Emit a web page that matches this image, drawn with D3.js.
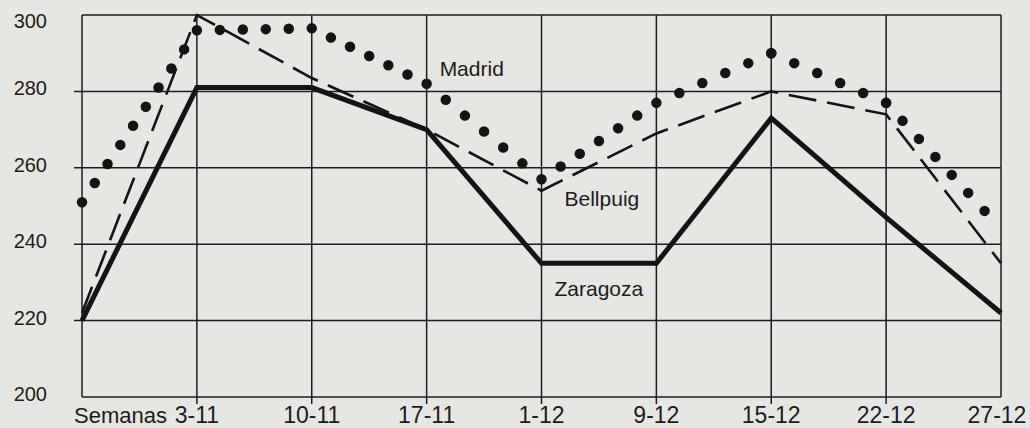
<!DOCTYPE html>
<html>
<head>
<meta charset="utf-8">
<script src="https://cdn.jsdelivr.net/npm/d3@7"></script>
<style>
  body { margin: 0; background: #e6e6e3; }
  svg { display: block; }
  text { font-family: "Liberation Sans", Arial, sans-serif; fill: #1c1c1c; }
  .grid { stroke: #1c1c1c; stroke-width: 1.5; fill: none; }
</style>
</head>
<body>
<svg width="1030" height="428"></svg>
<script>
// weeks ("" = start of the series, no label)
const weeks = ["", "3-11", "10-11", "17-11", "1-12", "9-12", "15-12", "22-12", "27-12"];
const yTicks = [200, 220, 240, 260, 280, 300];

// series values
const madrid   = [251, 296, 296.5, 282, 257, 277, 290, 277, 244];
const bellpuig = [222, 300, 283.5, 270, 254, 269, 280, 274, 235];
const zaragoza = [220, 281, 281, 270, 235, 235, 273, 247, 222];

const plotLeft = 82, plotRight = 1001, plotTop = 15, plotBottom = 397;

const svg = d3.select("svg");

const x = d3.scalePoint()
    .domain(weeks)
    .range([plotLeft, plotRight]);

const y = d3.scaleLinear()
    .domain([200, 300])
    .range([plotBottom, plotTop]);

// horizontal grid lines
svg.append("g")
    .selectAll("line")
    .data(yTicks)
    .join("line")
    .attr("class", "grid")
    .attr("x1", d => (d == 200 || d == 300) ? plotLeft : plotLeft - 8)
    .attr("x2", plotRight)
    .attr("y1", d => y(d))
    .attr("y2", d => y(d));

// vertical grid lines (ticks stick out below the frame)
svg.append("g")
    .selectAll("line")
    .data(weeks)
    .join("line")
    .attr("class", "grid")
    .attr("x1", d => x(d))
    .attr("x2", d => x(d))
    .attr("y1", plotTop)
    .attr("y2", d => (d == "" || d == "27-12") ? plotBottom : plotBottom + 7);

// y labels
svg.append("g")
    .selectAll("text")
    .data(yTicks)
    .join("text")
    .attr("x", 47)
    .attr("y", d => y(d) + (d == 300 ? 13 : 4))
    .attr("text-anchor", "end")
    .style("font-size", "20px")
    .text(d => d);

// x labels
svg.append("g")
    .selectAll("text")
    .data(weeks.filter(d => d != ""))
    .join("text")
    .attr("x", d => x(d) + (d == "27-12" ? -4 : 0))
    .attr("y", 423)
    .attr("text-anchor", "middle")
    .style("font-size", "23px")
    .text(d => d);

svg.append("text")
    .attr("x", 74)
    .attr("y", 423)
    .style("font-size", "22px")
    .text("Semanas");

const line = d3.line()
    .x((d, i) => x(weeks[i]))
    .y(d => y(d));

// Zaragoza: thick solid
svg.append("path")
    .datum(zaragoza)
    .attr("d", line)
    .attr("fill", "none")
    .attr("stroke", "#141414")
    .attr("stroke-width", 5)
    .attr("stroke-linejoin", "miter");

// Bellpuig: dashed
svg.append("path")
    .datum(bellpuig)
    .attr("d", line)
    .attr("fill", "none")
    .attr("stroke", "#141414")
    .attr("stroke-width", 2.6)
    .attr("stroke-dasharray", "28 11");

// Madrid: round dots, each segment drawn on its own so vertices get a dot pair
const segs = d3.pairs(madrid.map((v, i) => [x(weeks[i]), y(v)]));
svg.append("g")
    .selectAll("path")
    .data(segs)
    .join("path")
    .attr("d", d => "M" + d[0] + "L" + d[1])
    .attr("fill", "none")
    .attr("stroke", "#141414")
    .attr("stroke-width", 10.5)
    .attr("stroke-linecap", "round")
    .attr("stroke-dasharray", d => {
        const len = Math.hypot(d[1][0] - d[0][0], d[1][1] - d[0][1]);
        const n = Math.max(1, Math.round(len / 23));
        return "0 " + (len / n);
    });

// series labels
svg.append("text")
    .attr("x", x("17-11") + 13)
    .attr("y", 76)
    .style("font-size", "21px")
    .text("Madrid");

svg.append("text")
    .attr("x", x("1-12") + 23)
    .attr("y", 206)
    .style("font-size", "21px")
    .text("Bellpuig");

svg.append("text")
    .attr("x", x("1-12") + 13)
    .attr("y", 296)
    .style("font-size", "21px")
    .text("Zaragoza");
</script>
</body>
</html>
